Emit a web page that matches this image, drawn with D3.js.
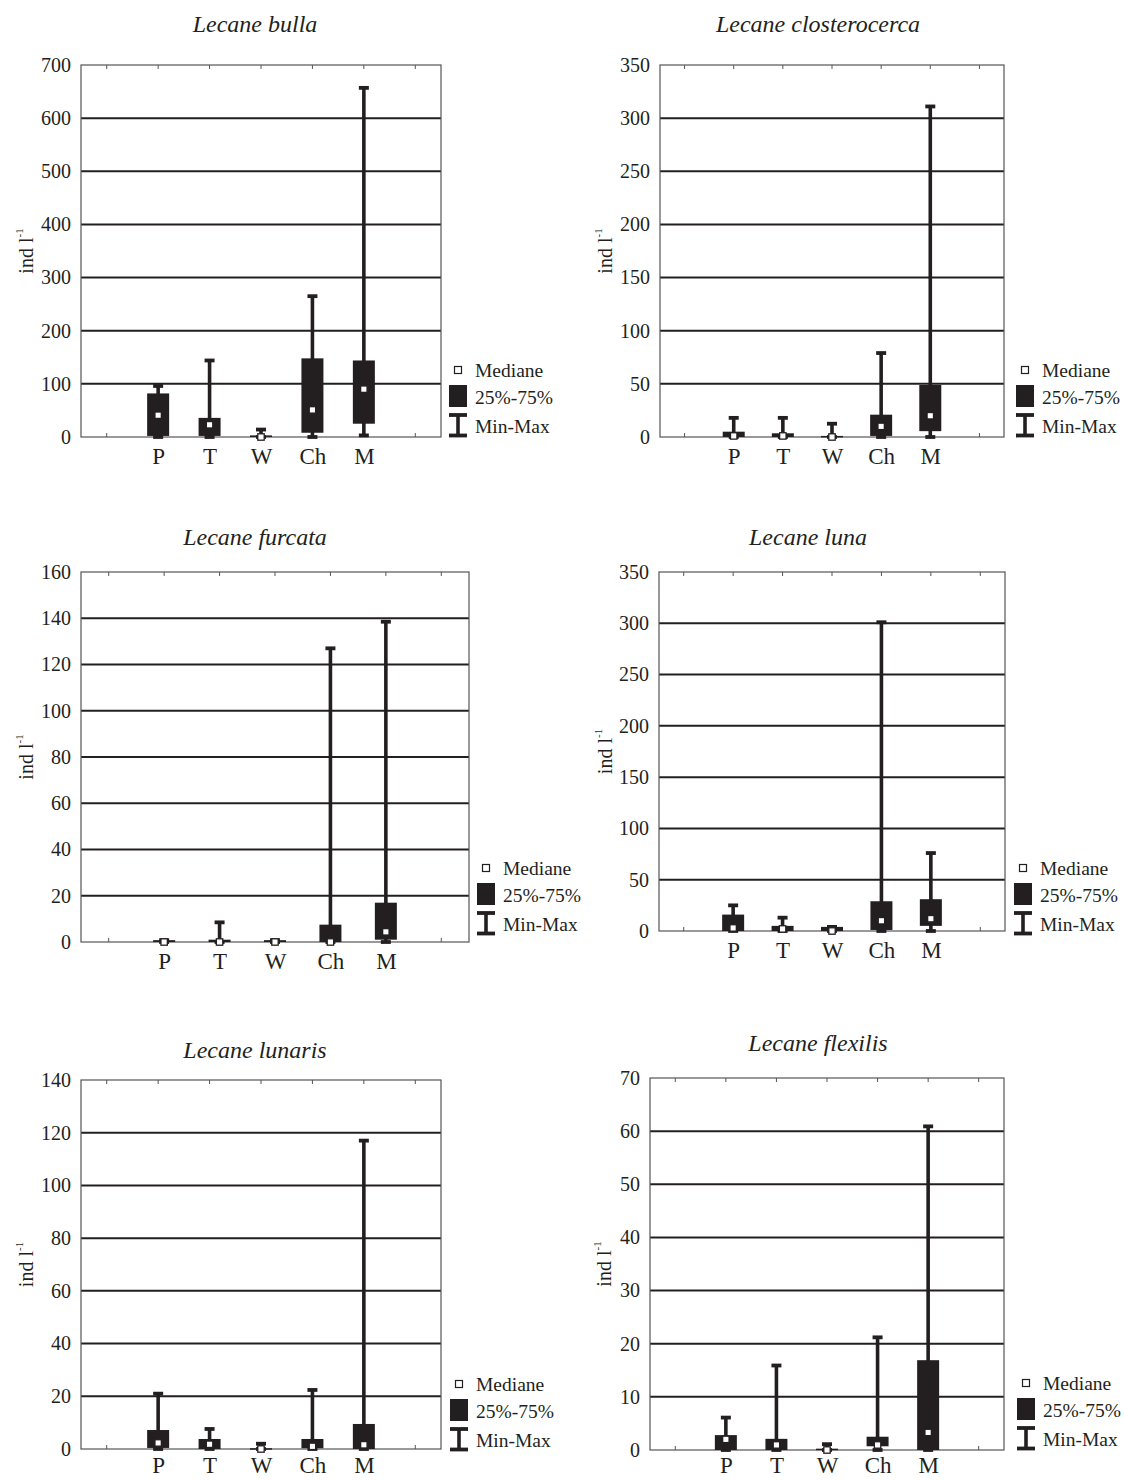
<!DOCTYPE html>
<html>
<head>
<meta charset="utf-8">
<script src="https://cdn.jsdelivr.net/npm/d3@7/dist/d3.min.js"></script>
<style>
  body { margin: 0; background: #fff; }
  svg { display: block; }
  text { font-family: "Liberation Serif", "DejaVu Serif", serif; fill: #231f20; }
</style>
</head>
<body>
<svg id="chart" width="1124" height="1480"></svg>
<script>
// ---------- DATA ----------
const categories = ["P", "T", "W", "Ch", "M"];
const titles = ["Lecane bulla", "Lecane closterocerca", "Lecane furcata", "Lecane luna", "Lecane lunaris", "Lecane flexilis"];
const legendLabels = ["Mediane", "25%-75%", "Min-Max"];

const bullaTicks = [0, 100, 200, 300, 400, 500, 600, 700];
const bullaMin = [0, 0, 0, 0, 3];
const bullaQ1 = [2, 2, 0, 8, 25];
const bullaMedian = [41, 23, 0, 51, 90];
const bullaQ3 = [82, 36, 3, 148, 144];
const bullaMax = [96, 144, 14, 265, 657];

const closteroTicks = [0, 50, 100, 150, 200, 250, 300, 350];
const closteroMin = [0, 0, 0, 0, 0];
const closteroQ1 = [0, 0, 0, 1, 5.5];
const closteroMedian = [1, 1, 0, 10, 20];
const closteroQ3 = [5, 3.5, 1, 21, 49];
const closteroMax = [18, 18, 12.5, 79, 311];

const furcataTicks = [0, 20, 40, 60, 80, 100, 120, 140, 160];
const furcataMin = [0, 0, 0, 0, 0];
const furcataQ1 = [0, 0, 0, 0, 1];
const furcataMedian = [0, 0, 0, 0, 4.4];
const furcataQ3 = [0.8, 1, 0.8, 7.5, 17];
const furcataMax = [0.8, 8.5, 0.8, 127, 138.5];

const lunaTicks = [0, 50, 100, 150, 200, 250, 300, 350];
const lunaMin = [0, 0, 0, 0, 0];
const lunaQ1 = [0, 0, 0, 1, 5];
const lunaMedian = [3, 2, 0, 10, 12];
const lunaQ3 = [16, 5, 4, 29, 31];
const lunaMax = [25, 13, 4, 301, 76];

const lunarisTicks = [0, 20, 40, 60, 80, 100, 120, 140];
const lunarisMin = [0, 0, 0, 0, 0];
const lunarisQ1 = [0.4, 0, 0, 0.3, 0];
const lunarisMedian = [2.3, 1.8, 0, 1, 1.6];
const lunarisQ3 = [7.2, 3.8, 0.3, 3.8, 9.5];
const lunarisMax = [21, 7.6, 2, 22.4, 117];

const flexilisTicks = [0, 10, 20, 30, 40, 50, 60, 70];
const flexilisMin = [0, 0, 0, 0, 0];
const flexilisQ1 = [0, 0, 0, 0.7, 0];
const flexilisMedian = [2, 0.95, 0, 0.95, 3.3];
const flexilisQ3 = [2.8, 2.1, 0.25, 2.5, 16.9];
const flexilisMax = [6.1, 15.9, 1.1, 21.2, 60.9];

const panelsData = [
  { ticks: bullaTicks, min: bullaMin, q1: bullaQ1, med: bullaMedian, q3: bullaQ3, max: bullaMax },
  { ticks: closteroTicks, min: closteroMin, q1: closteroQ1, med: closteroMedian, q3: closteroQ3, max: closteroMax },
  { ticks: furcataTicks, min: furcataMin, q1: furcataQ1, med: furcataMedian, q3: furcataQ3, max: furcataMax },
  { ticks: lunaTicks, min: lunaMin, q1: lunaQ1, med: lunaMedian, q3: lunaQ3, max: lunaMax },
  { ticks: lunarisTicks, min: lunarisMin, q1: lunarisQ1, med: lunarisMedian, q3: lunarisQ3, max: lunarisMax },
  { ticks: flexilisTicks, min: flexilisMin, q1: flexilisQ1, med: flexilisMedian, q3: flexilisQ3, max: flexilisMax }
];

// ---------- LAYOUT ----------
const layouts = [
  { l: 81,  r: 441,  t: 65,   b: 437,  tx: 255, ty: 24,   lx: 458,  ly: 370,  yl: 26,  xp: 11 },
  { l: 660, r: 1004, t: 65,   b: 437,  tx: 818, ty: 24,   lx: 1025, ly: 370,  yl: 605, xp: 11 },
  { l: 81,  r: 469,  t: 572,  b: 942,  tx: 255, ty: 537,  lx: 486,  ly: 868,  yl: 26,  xp: 11 },
  { l: 659, r: 1005, t: 572,  b: 931,  tx: 808, ty: 537,  lx: 1023, ly: 868,  yl: 605, xp: 11 },
  { l: 81,  r: 441,  t: 1080, b: 1449, tx: 255, ty: 1050, lx: 459,  ly: 1384, yl: 26,  xp: 8 },
  { l: 650, r: 1004, t: 1078, b: 1450, tx: 818, ty: 1043, lx: 1026, ly: 1383, yl: 604, xp: 7 }
];

const INK = "#231f20";
const FRAME = "#555";
const svg = d3.select("#chart");
svg.append("rect").attr("width", 1124).attr("height", 1480).attr("fill", "#fff");

panelsData.forEach((pd, pi) => {
  const L = layouts[pi];
  const g = svg.append("g");
  const ticks = pd.ticks;
  const yMax = ticks[ticks.length - 1];
  const y = d3.scaleLinear().domain([0, yMax]).range([L.b, L.t]);
  const x = d3.scalePoint().domain(categories).range([L.l, L.r]).padding(1.5);
  const step = x.step();

  // title
  g.append("text").attr("x", L.tx).attr("y", L.ty).attr("text-anchor", "middle")
    .attr("dominant-baseline", "central").attr("font-style", "italic").attr("font-size", 24)
    .text(titles[pi]);

  // gridlines (inner ticks)
  g.selectAll(".grid").data(ticks.filter(v => v > 0 && v < yMax)).enter().append("line")
    .attr("x1", L.l).attr("x2", L.r).attr("y1", d => y(d)).attr("y2", d => y(d))
    .attr("stroke", INK).attr("stroke-width", 2);

  // frame
  g.append("rect").attr("x", L.l).attr("y", L.t).attr("width", L.r - L.l).attr("height", L.b - L.t)
    .attr("fill", "none").attr("stroke", FRAME).attr("stroke-width", 1.2);

  // x ticks top/bottom (at categories plus one each side)
  const tickXs = [x(categories[0]) - step].concat(categories.map(c => x(c))).concat([x(categories[categories.length - 1]) + step]);
  tickXs.forEach(tx => {
    g.append("line").attr("x1", tx).attr("x2", tx).attr("y1", L.b).attr("y2", L.b - 4).attr("stroke", FRAME).attr("stroke-width", 1);
    g.append("line").attr("x1", tx).attr("x2", tx).attr("y1", L.t).attr("y2", L.t + 4).attr("stroke", FRAME).attr("stroke-width", 1);
  });

  // y axis labels
  const yAxis = d3.axisLeft(y).tickValues(ticks).tickSize(0).tickPadding(10).tickFormat(d3.format("d"));
  const ya = g.append("g").attr("transform", `translate(${L.l},0)`).call(yAxis);
  ya.select(".domain").remove();
  ya.selectAll("text").attr("font-size", 20).attr("font-family", "Liberation Serif").attr("fill", INK);

  // x axis labels
  const xAxis = d3.axisBottom(x).tickSize(0).tickPadding(L.xp);
  const xa = g.append("g").attr("transform", `translate(0,${L.b})`).call(xAxis);
  xa.select(".domain").remove();
  xa.selectAll("text").attr("font-size", 23).attr("font-family", "Liberation Serif").attr("fill", INK);

  // y label
  const ylab = g.append("text").attr("transform", `translate(${L.yl},${(L.t + L.b) / 2}) rotate(-90)`)
    .attr("text-anchor", "middle").attr("dominant-baseline", "central").attr("font-size", 20);
  ylab.append("tspan").text("ind l");
  ylab.append("tspan").attr("font-size", 11).attr("dy", -7).text("-1");

  // boxes
  const capW = 10, boxW = 22;
  categories.forEach((c, i) => {
    const cx = x(c);
    g.append("line").attr("x1", cx).attr("x2", cx).attr("y1", y(pd.min[i])).attr("y2", y(pd.max[i]))
      .attr("stroke", INK).attr("stroke-width", 3.6);
    [pd.min[i], pd.max[i]].forEach(v => {
      g.append("line").attr("x1", cx - capW / 2).attr("x2", cx + capW / 2).attr("y1", y(v)).attr("y2", y(v))
        .attr("stroke", INK).attr("stroke-width", 3.8);
    });
    const top = y(pd.q3[i]), bot = y(pd.q1[i]);
    g.append("rect").attr("x", cx - boxW / 2).attr("y", top).attr("width", boxW).attr("height", Math.max(bot - top, 1.5))
      .attr("fill", INK);
    g.append("rect").attr("x", cx - 3.2).attr("y", y(pd.med[i]) - 3.2).attr("width", 6.4).attr("height", 6.4)
      .attr("fill", "#fff").attr("stroke", INK).attr("stroke-width", 1.3);
  });

  // legend
  const lx = L.lx, ly = L.ly;
  g.append("rect").attr("x", lx - 3.5).attr("y", ly - 3.5).attr("width", 7).attr("height", 7)
    .attr("fill", "#fff").attr("stroke", INK).attr("stroke-width", 1.2);
  g.append("rect").attr("x", lx - 9).attr("y", ly + 15).attr("width", 18).attr("height", 22).attr("fill", INK);
  g.append("line").attr("x1", lx).attr("x2", lx).attr("y1", ly + 44).attr("y2", ly + 66).attr("stroke", INK).attr("stroke-width", 3.6);
  g.append("line").attr("x1", lx - 9).attr("x2", lx + 9).attr("y1", ly + 45).attr("y2", ly + 45).attr("stroke", INK).attr("stroke-width", 3.8);
  g.append("line").attr("x1", lx - 9).attr("x2", lx + 9).attr("y1", ly + 65.5).attr("y2", ly + 65.5).attr("stroke", INK).attr("stroke-width", 3.8);
  const rowsY = [ly, ly + 27, ly + 56];
  legendLabels.forEach((t, k) => {
    g.append("text").attr("x", lx + 17).attr("y", rowsY[k]).attr("dominant-baseline", "central")
      .attr("font-size", 19.5).text(t);
  });
});
</script>
</body>
</html>
